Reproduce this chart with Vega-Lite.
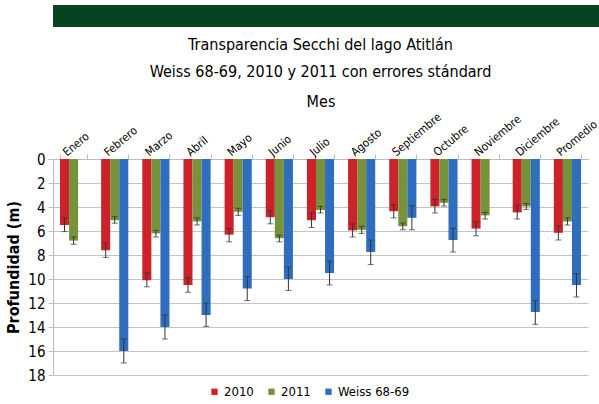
{
  "$schema": "https://vega.github.io/schema/vega-lite/v6.json",
  "background": "white",
  "padding": {"left": 5, "top": 5, "right": 0, "bottom": 0},
  "spacing": 9,
  "columns": 1,
  "align": "none",
  "center": true,
  "config": {
    "view": {"stroke": null},
    "font": "DejaVu Sans Condensed, Roboto",
    "axisY": {
      "title": "Profundidad (m)",
      "titleFont": "DejaVu Sans Condensed, Roboto",
      "titleFontSize": 16,
      "titleFontWeight": "bold",
      "titleColor": "black",
      "titlePadding": 6,
      "labelOverlap": false,
      "labelFont": "DejaVu Sans Condensed, Roboto",
      "labelFontSize": 15,
      "labelColor": "black",
      "labelPadding": 3,
      "tickSize": 5,
      "tickColor": "#bdbdbd",
      "domainColor": "#bdbdbd",
      "gridColor": "#c4c4c4",
      "gridWidth": 1.2
    }
  },
  "concat": [
    {
      "width": 594,
      "height": 22,
      "data": {"values": [{"banda": 1}]},
      "mark": {"type": "rect", "color": "#03441f"},
      "encoding": {}
    },
    {
      "width": 535,
      "height": 216,
      "title": {
        "text": ["Transparencia Secchi del lago Atitlán", "Weiss 68-69, 2010 y 2011 con errores stándard"],
        "font": "DejaVu Sans Condensed, Roboto",
        "fontSize": 16,
        "fontWeight": "normal",
        "lineHeight": 27,
        "color": "black",
        "anchor": "middle",
        "frame": "group",
        "offset": 14
      },
      "data": {
        "values": [
          {"mes": "Enero", "serie": "2010", "valor": 5.5, "lo": 4.9, "hi": 6.05},
          {"mes": "Enero", "serie": "2011", "valor": 6.8, "lo": 6.5, "hi": 7.1},
          {"mes": "Febrero", "serie": "2010", "valor": 7.6, "lo": 7.0, "hi": 8.2},
          {"mes": "Febrero", "serie": "2011", "valor": 5.1, "lo": 4.8, "hi": 5.35},
          {"mes": "Febrero", "serie": "Weiss 68-69", "valor": 16.0, "lo": 15.0, "hi": 17.0},
          {"mes": "Marzo", "serie": "2010", "valor": 10.1, "lo": 9.5, "hi": 10.65},
          {"mes": "Marzo", "serie": "2011", "valor": 6.2, "lo": 5.95, "hi": 6.5},
          {"mes": "Marzo", "serie": "Weiss 68-69", "valor": 14.0, "lo": 13.0, "hi": 15.0},
          {"mes": "Abril", "serie": "2010", "valor": 10.5, "lo": 9.9, "hi": 11.1},
          {"mes": "Abril", "serie": "2011", "valor": 5.2, "lo": 4.9, "hi": 5.5},
          {"mes": "Abril", "serie": "Weiss 68-69", "valor": 13.0, "lo": 12.0, "hi": 13.95},
          {"mes": "Mayo", "serie": "2010", "valor": 6.3, "lo": 5.8, "hi": 6.9},
          {"mes": "Mayo", "serie": "2011", "valor": 4.4, "lo": 4.1, "hi": 4.7},
          {"mes": "Mayo", "serie": "Weiss 68-69", "valor": 10.8, "lo": 9.8, "hi": 11.8},
          {"mes": "Junio", "serie": "2010", "valor": 4.85, "lo": 4.3, "hi": 5.4},
          {"mes": "Junio", "serie": "2011", "valor": 6.6, "lo": 6.35, "hi": 6.9},
          {"mes": "Junio", "serie": "Weiss 68-69", "valor": 10.0, "lo": 9.0, "hi": 10.95},
          {"mes": "Julio", "serie": "2010", "valor": 5.1, "lo": 4.5, "hi": 5.7},
          {"mes": "Julio", "serie": "2011", "valor": 4.25, "lo": 3.95, "hi": 4.5},
          {"mes": "Julio", "serie": "Weiss 68-69", "valor": 9.5, "lo": 8.5, "hi": 10.5},
          {"mes": "Agosto", "serie": "2010", "valor": 5.95, "lo": 5.4, "hi": 6.5},
          {"mes": "Agosto", "serie": "2011", "valor": 5.9, "lo": 5.6, "hi": 6.2},
          {"mes": "Agosto", "serie": "Weiss 68-69", "valor": 7.75, "lo": 6.75, "hi": 8.8},
          {"mes": "Septiembre", "serie": "2010", "valor": 4.35, "lo": 3.8, "hi": 4.9},
          {"mes": "Septiembre", "serie": "2011", "valor": 5.6, "lo": 5.33, "hi": 5.9},
          {"mes": "Septiembre", "serie": "Weiss 68-69", "valor": 4.9, "lo": 3.9, "hi": 5.9},
          {"mes": "Octubre", "serie": "2010", "valor": 3.95, "lo": 3.36, "hi": 4.5},
          {"mes": "Octubre", "serie": "2011", "valor": 3.65, "lo": 3.36, "hi": 3.92},
          {"mes": "Octubre", "serie": "Weiss 68-69", "valor": 6.75, "lo": 5.78, "hi": 7.75},
          {"mes": "Noviembre", "serie": "2010", "valor": 5.8, "lo": 5.25, "hi": 6.4},
          {"mes": "Noviembre", "serie": "2011", "valor": 4.7, "lo": 4.45, "hi": 5.0},
          {"mes": "Diciembre", "serie": "2010", "valor": 4.45, "lo": 3.86, "hi": 5.0},
          {"mes": "Diciembre", "serie": "2011", "valor": 3.95, "lo": 3.7, "hi": 4.2},
          {"mes": "Diciembre", "serie": "Weiss 68-69", "valor": 12.75, "lo": 11.78, "hi": 13.78},
          {"mes": "Promedio", "serie": "2010", "valor": 6.15, "lo": 5.58, "hi": 6.75},
          {"mes": "Promedio", "serie": "2011", "valor": 5.2, "lo": 4.9, "hi": 5.5},
          {"mes": "Promedio", "serie": "Weiss 68-69", "valor": 10.5, "lo": 9.55, "hi": 11.5}
        ]
      },
      "encoding": {
        "x": {
          "field": "mes",
          "type": "nominal",
          "sort": ["Enero", "Febrero", "Marzo", "Abril", "Mayo", "Junio", "Julio", "Agosto", "Septiembre", "Octubre", "Noviembre", "Diciembre", "Promedio"],
          "scale": {"paddingInner": 0.34, "paddingOuter": 0.17},
          "axis": {
            "orient": "top",
            "title": "Mes",
            "titleFont": "DejaVu Sans Condensed, Roboto",
            "titleFontSize": 16,
            "titleFontWeight": "normal",
            "titleColor": "black",
            "titlePadding": 1,
            "labelAngle": -40,
            "labelAlign": "left",
            "labelBaseline": "middle",
            "labelOffset": -9,
            "labelFont": "DejaVu Sans Condensed, Roboto",
            "labelFontSize": 11.5,
            "labelColor": "black",
            "labelPadding": 0,
            "labelOverlap": false,
            "tickBand": "extent",
            "tickSize": 5,
            "tickColor": "#bdbdbd",
            "domainColor": "#bdbdbd",
            "grid": false
          }
        },
        "xOffset": {
          "field": "serie",
          "type": "nominal",
          "scale": {"domain": ["2010", "2011", "Weiss 68-69"], "paddingInner": 0, "paddingOuter": 0}
        }
      },
      "layer": [
        {
          "mark": {"type": "bar"},
          "encoding": {
            "y": {
              "field": "valor",
              "type": "quantitative",
              "scale": {"domain": [0, 18], "reverse": true, "nice": false},
              "axis": {"title": "Profundidad (m)", "values": [0, 2, 4, 6, 8, 10, 12, 14, 16, 18]}
            },
            "color": {
              "field": "serie",
              "type": "nominal",
              "scale": {"domain": ["2010", "2011", "Weiss 68-69"], "range": ["#cc2229", "#76933c", "#2f6ebf"]},
              "legend": {
                "title": null,
                "orient": "none",
                "legendX": 155,
                "legendY": 380,
                "direction": "horizontal",
                "symbolType": "square",
                "symbolSize": 40,
                "symbolStrokeWidth": 0,
                "labelFont": "DejaVu Sans Condensed, Roboto",
                "labelFontSize": 13,
                "labelColor": "black",
                "columnPadding": 11,
                "labelOffset": 3
              }
            }
          }
        },
        {
          "mark": {"type": "rule", "color": "#333333", "strokeWidth": 1},
          "encoding": {
            "y": {"field": "lo", "type": "quantitative", "axis": {"title": "Profundidad (m)", "values": [0, 2, 4, 6, 8, 10, 12, 14, 16, 18]}},
            "y2": {"field": "hi"}
          }
        },
        {
          "mark": {"type": "tick", "color": "#333333", "thickness": 1, "size": 6},
          "encoding": {
            "y": {"field": "lo", "type": "quantitative", "axis": {"title": "Profundidad (m)", "values": [0, 2, 4, 6, 8, 10, 12, 14, 16, 18]}}
          }
        },
        {
          "mark": {"type": "tick", "color": "#333333", "thickness": 1, "size": 6},
          "encoding": {
            "y": {"field": "hi", "type": "quantitative", "axis": {"title": "Profundidad (m)", "values": [0, 2, 4, 6, 8, 10, 12, 14, 16, 18]}}
          }
        }
      ]
    }
  ]
}
